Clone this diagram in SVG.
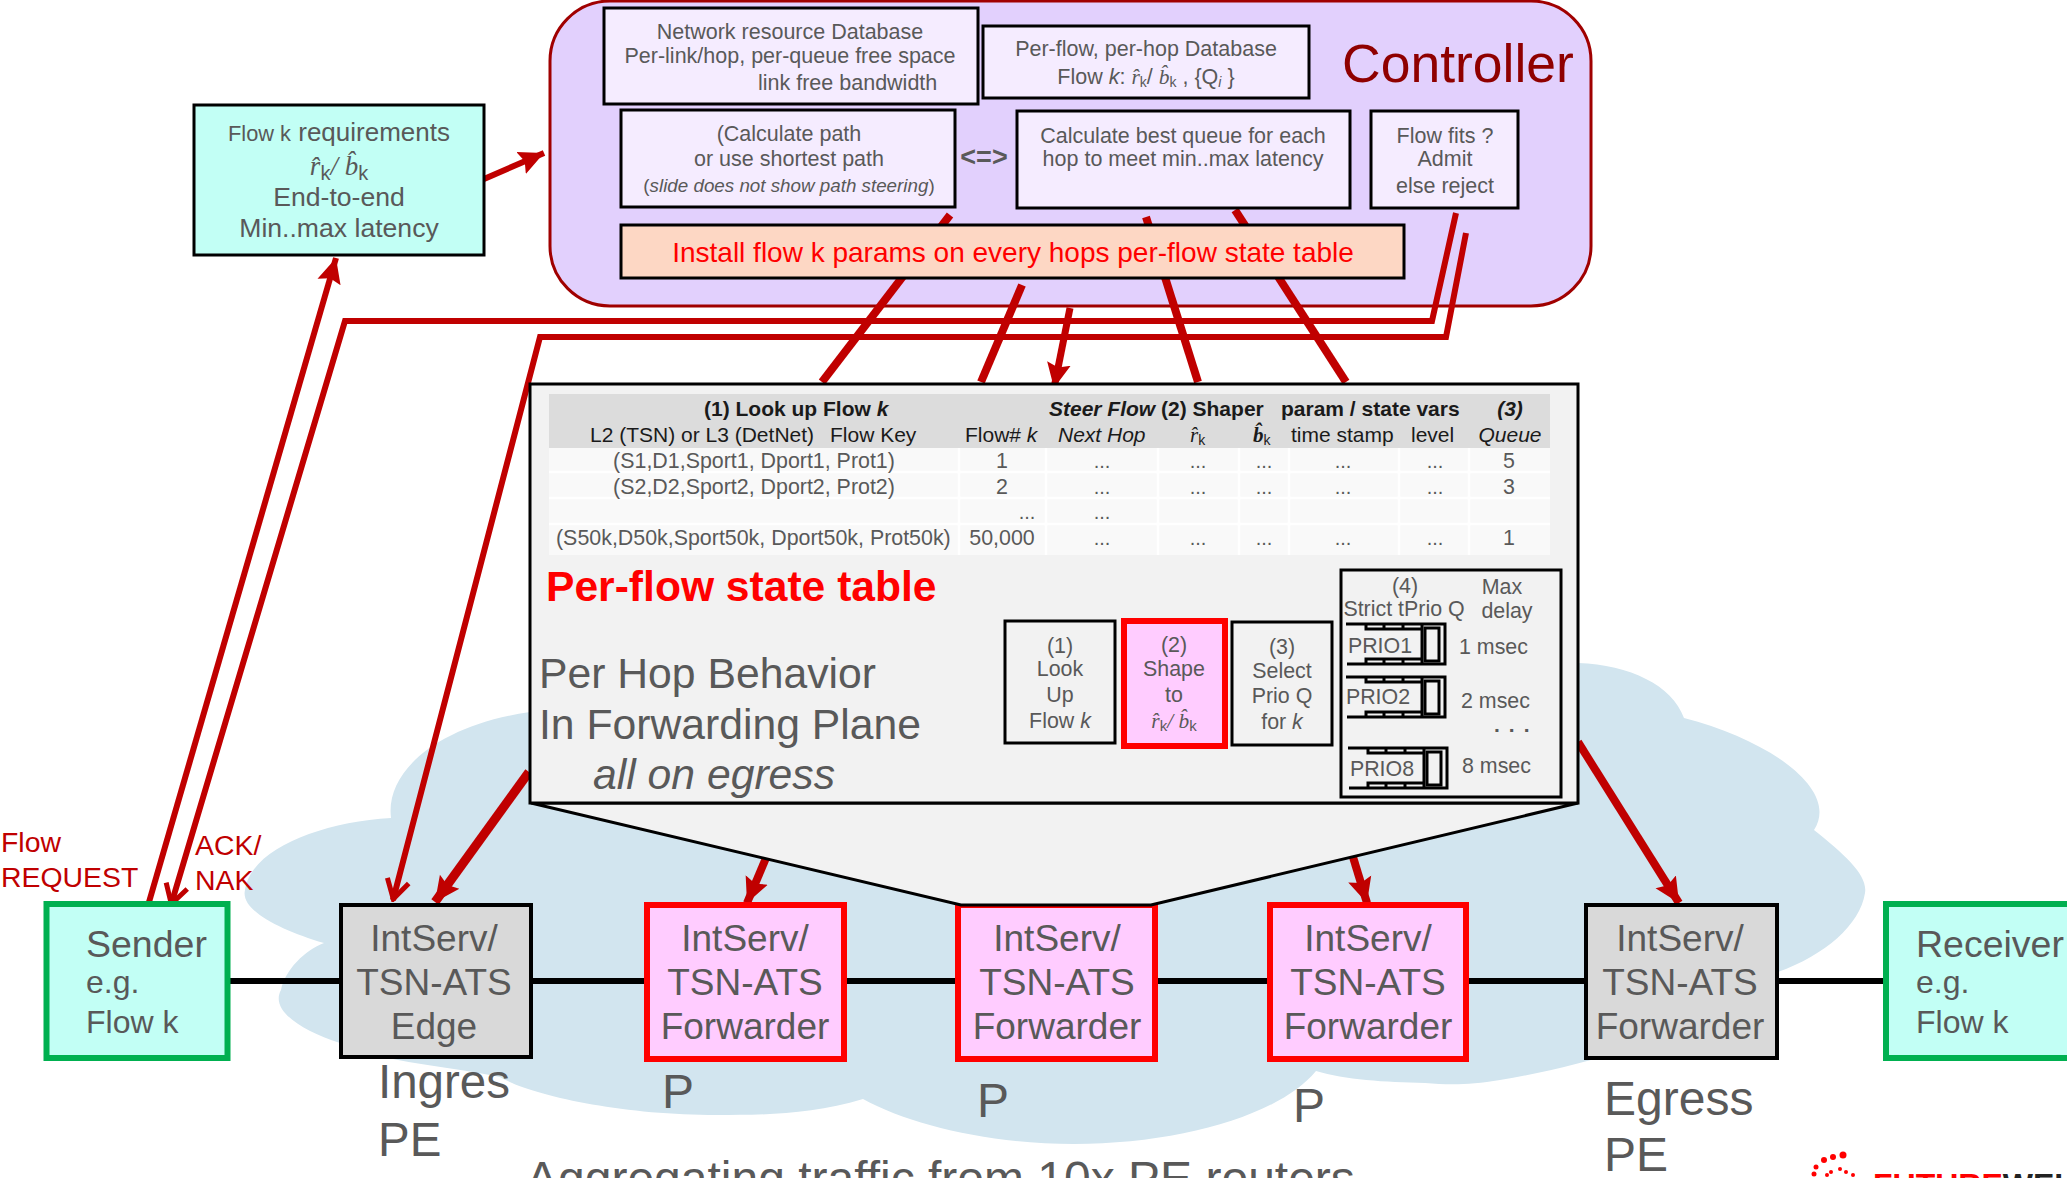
<svg xmlns="http://www.w3.org/2000/svg" xmlns:xlink="http://www.w3.org/1999/xlink" width="2067" height="1178" viewBox="0 0 2067 1178">
<style>
text{font-family:"Liberation Sans",Arial,sans-serif;fill:#595959}
.m{text-anchor:middle}
.sf{font-family:"Liberation Serif",serif;font-style:italic}
.sub{font-family:"Liberation Sans",Arial,sans-serif;font-style:normal}
.red{fill:#c00000;font-size:28.400px}
.c{stroke:#c00000;fill:none}
.n{fill:#f5ecff;stroke:#000;stroke-width:3}
.t{font-size:21.500px}
.h{font-size:21px;fill:#1a1a1a}
.d{font-size:21.400px}
.dots{font-size:20px;text-anchor:middle}
.fw{fill:#ffccff;stroke:#ff0000;stroke-width:6}
.gy{fill:#d9d9d9;stroke:#000;stroke-width:4}
.g{font-size:37px;text-anchor:middle}
.l{font-size:48px}
.b{font-size:42.700px}
.q{fill:none;stroke:#000;stroke-width:3}
.hs{fill:#c2fff5;stroke:#00b050;stroke-width:6}
</style>
<defs>
<marker id="ah" markerUnits="userSpaceOnUse" markerWidth="26" markerHeight="28" refX="25" refY="14" orient="auto"><path d="M0 2L25 14L0 26L4 14Z" fill="#c00000"/></marker>
<marker id="oh" markerUnits="userSpaceOnUse" markerWidth="26" markerHeight="28" refX="24" refY="14" orient="auto"><path d="M4 3L23 14L4 25" fill="none" stroke="#c00000" stroke-width="5"/></marker>
<g id="qs"><path class="q" d="M1346 624H1445V664H1347M1366 624V629H1422M1384 624V629M1403 624V629M1366 664V659H1422M1384 664V659M1403 664V659M1422 624V664"/><rect class="q" x="1425" y="628" width="14" height="33"/></g>
</defs>
<g id="cloud"><path fill="#d2e5ef" d="M391 818C385 770 440 725 530 712L1578 663C1630 665 1672 685 1684 718C1770 740 1840 790 1814 830C1845 855 1868 875 1865 893C1860 925 1825 955 1778 972C1720 1020 1620 1060 1500 1080C1470 1085 1450 1085 1425 1083C1385 1082 1345 1080 1316 1071C1280 1115 1180 1144 1074 1144C990 1144 910 1125 863 1099C810 1115 760 1115 717 1115C620 1115 530 1095 500 1077C440 1065 370 1060 340 1043C300 1030 270 1010 281 990C285 970 305 950 324 943C280 930 240 910 245 890C250 850 320 822 391 818Z"/></g>
<g id="wires" stroke="#000" stroke-width="6" fill="none"><path d="M230 981H1890"/></g>
<g id="controller"><rect x="550" y="1" width="1041" height="305" rx="60" fill="#e2d0fd" stroke="#a00000" stroke-width="3"/>
<text x="1342" y="82" font-size="53.500" style="fill:#8f0000">Controller</text></g>
<g id="connectors">
<path class="c" stroke-width="8" d="M950 215L822 382"/>
<path class="c" stroke-width="8" d="M1022 285L981 382"/>
<path class="c" stroke-width="7" d="M1070 308L1054 388" marker-end="url(#ah)"/>
<path class="c" stroke-width="8" d="M1146 217L1198 382"/>
<path class="c" stroke-width="8" d="M1235 210L1346 382"/>
<path class="c" stroke-width="6" d="M1456 213L1432 321H345L171 905" marker-end="url(#oh)"/>
<path class="c" stroke-width="6" d="M1466 233L1446 337H540L393 900" marker-end="url(#oh)"/>
<path class="c" stroke-width="6" d="M147 909L336 258" marker-end="url(#ah)"/>
<path class="c" stroke-width="6" d="M484 179L544 153" marker-end="url(#ah)"/>
<path class="c" stroke-width="9" d="M529 772L435 902" marker-end="url(#ah)"/>
<path class="c" stroke-width="8" d="M766 858L747 903" marker-end="url(#ah)"/>
<path class="c" stroke-width="8" d="M1353 857L1367 903" marker-end="url(#ah)"/>
<path class="c" stroke-width="8" d="M1578 742L1679 903" marker-end="url(#ah)"/>
</g>
<g id="db1"><rect class="n" x="604" y="8" width="374" height="96"/>
<text class="t m" x="790" y="39">Network resource Database</text>
<text class="t m" x="790" y="63">Per-link/hop, per-queue free space</text>
<text class="t" x="758" y="90">link free bandwidth</text></g>
<g id="db2"><rect class="n" x="983" y="26" width="326" height="72"/>
<text class="t m" x="1146" y="56">Per-flow, per-hop Database</text>
<text class="t m" x="1146" y="84">Flow <tspan font-style="italic">k</tspan>: <tspan class="sf">r̂</tspan><tspan font-size="14" dy="3">k</tspan><tspan dy="-3">/ </tspan><tspan class="sf">b̂</tspan><tspan font-size="14" dy="3">k</tspan><tspan dy="-3"> , {Q</tspan><tspan font-size="14" dy="3" font-style="italic">i</tspan><tspan dy="-3"> }</tspan></text></g>
<g id="calc1"><rect class="n" x="621" y="110" width="334" height="97"/>
<text class="t m" x="789" y="141">(Calculate path</text>
<text class="t m" x="789" y="166">or use shortest path</text>
<text x="789" y="192" font-size="18.800" text-anchor="middle">(<tspan font-style="italic">slide does not show path steering</tspan>)</text></g>
<text x="984" y="166" font-size="27" text-anchor="middle" font-weight="bold">&lt;=&gt;</text>
<g id="calc2"><rect class="n" x="1017" y="111" width="333" height="97"/>
<text class="t m" x="1183" y="143">Calculate best queue for each</text>
<text class="t m" x="1183" y="166">hop to meet min..max latency</text></g>
<g id="admit"><rect class="n" x="1371" y="111" width="147" height="97"/>
<text class="t m" x="1445" y="143">Flow fits ?</text>
<text class="t m" x="1445" y="166">Admit</text>
<text class="t m" x="1445" y="193">else reject</text></g>
<g id="install"><rect x="621" y="225" width="783" height="53" fill="#fdd7c4" stroke="#000" stroke-width="3"/>
<text x="1013" y="262" font-size="28" text-anchor="middle" style="fill:#ff0000">Install flow k params on every hops per-flow state table</text></g>
<g id="req"><rect x="194" y="105" width="290" height="150" fill="#c2fff5" stroke="#000" stroke-width="3"/>
<text x="339" y="141" font-size="26" text-anchor="middle"><tspan font-size="21.800">Flow k</tspan> requirements</text>
<text x="339" y="175" font-size="27" text-anchor="middle"><tspan class="sf">r̂</tspan><tspan font-size="20" dy="5">k</tspan><tspan dy="-5" class="sf">/ b̂</tspan><tspan font-size="20" dy="5">k</tspan></text>
<text x="339" y="206" font-size="26.600" text-anchor="middle">End-to-end</text>
<text x="339" y="237" font-size="26.600" text-anchor="middle">Min..max latency</text></g>
<g id="sender"><rect class="hs" x="46.500" y="904" width="181" height="154"/>
<text x="86" y="957" font-size="37.500">Sender</text><text x="86" y="993" font-size="32">e.g.</text><text x="86" y="1033" font-size="32">Flow k</text></g>
<g id="edge"><rect class="gy" x="341" y="905" width="190" height="152"/>
<text x="434" y="951" class="g">IntServ/</text><text x="434" y="995" class="g">TSN-ATS</text><text x="434" y="1039" class="g">Edge</text></g>
<g id="f1"><rect class="fw" x="647" y="905" width="197" height="154"/><text class="g" x="745" y="951">IntServ/</text><text class="g" x="745" y="995">TSN-ATS</text><text class="g" x="745" y="1039">Forwarder</text></g>
<g id="f2"><rect class="fw" x="958" y="905" width="197" height="154"/><text class="g" x="1057" y="951">IntServ/</text><text class="g" x="1057" y="995">TSN-ATS</text><text class="g" x="1057" y="1039">Forwarder</text></g>
<g id="f3"><rect class="fw" x="1270" y="905" width="196" height="154"/><text class="g" x="1368" y="951">IntServ/</text><text class="g" x="1368" y="995">TSN-ATS</text><text class="g" x="1368" y="1039">Forwarder</text></g>
<g id="egress"><rect class="gy" x="1586" y="905" width="191" height="153"/><text class="g" x="1680" y="951">IntServ/</text><text class="g" x="1680" y="995">TSN-ATS</text><text class="g" x="1680" y="1039">Forwarder</text></g>
<g id="receiver"><rect class="hs" x="1886" y="904" width="190" height="154"/>
<text x="1916" y="957" font-size="37.500">Receiver</text><text x="1916" y="993" font-size="32">e.g.</text><text x="1916" y="1033" font-size="32">Flow k</text></g>
<g id="perhop">
<path d="M531 803L961 905H1151L1578 803Z" fill="#f2f2f2" stroke="#000" stroke-width="3"/>
<rect x="530" y="384" width="1048" height="419" fill="#f2f2f2" stroke="#000" stroke-width="3"/>
<rect x="549" y="394" width="1001" height="54" fill="#dcdcdc"/>
<rect x="549" y="448" width="1001" height="107" fill="#f9f9f9"/>
<path d="M549 472H1550M549 498H1550M549 524H1550M959 448V555M1046 448V555M1158 448V555M1239 448V555M1289 448V555M1399 448V555M1469 448V555" stroke="#fff" stroke-width="2.500" fill="none"/>
<text class="h" x="704" y="416" font-weight="bold">(1) Look up Flow <tspan font-style="italic">k</tspan></text>
<text class="h" x="1049" y="416" font-weight="bold"><tspan font-style="italic">Steer Flow</tspan> (2) Shaper</text>
<text class="h" x="1281" y="416" font-weight="bold">param / state vars</text>
<text class="h m" x="1510" y="416" font-weight="bold" font-style="italic">(3)</text>
<text class="h" x="590" y="442">L2 (TSN) or L3 (DetNet)</text>
<text class="h" x="830" y="442">Flow Key</text>
<text class="h" x="965" y="442">Flow# <tspan font-style="italic">k</tspan></text>
<text class="h" x="1058" y="442" font-style="italic">Next Hop</text>
<text class="h" x="1190" y="442"><tspan class="sf">r̂</tspan><tspan font-size="14" dy="3">k</tspan></text>
<text class="h" x="1253" y="442"><tspan class="sf" font-weight="bold">b̂</tspan><tspan font-size="14" dy="3">k</tspan></text>
<text class="h" x="1291" y="442">time stamp</text>
<text class="h" x="1411" y="442">level</text>
<text class="h m" x="1510" y="442" font-style="italic">Queue</text>
<text class="d m" x="754" y="468">(S1,D1,Sport1, Dport1, Prot1)</text>
<text class="d m" x="754" y="494">(S2,D2,Sport2, Dport2, Prot2)</text>
<text class="d" x="556" y="545">(S50k,D50k,Sport50k, Dport50k, Prot50k)</text>
<text class="d m" x="1002" y="468">1</text><text class="d m" x="1002" y="494">2</text>
<text class="dots" x="1027" y="519">...</text><text class="d m" x="1002" y="545">50,000</text>
<text class="dots" x="1102" y="468">...</text><text class="dots" x="1102" y="494">...</text><text class="dots" x="1102" y="519">...</text><text class="dots" x="1102" y="545">...</text>
<text class="dots" x="1198" y="468">...</text><text class="dots" x="1198" y="494">...</text><text class="dots" x="1198" y="545">...</text>
<text class="dots" x="1264" y="468">...</text><text class="dots" x="1264" y="494">...</text><text class="dots" x="1264" y="545">...</text>
<text class="dots" x="1343" y="468">...</text><text class="dots" x="1343" y="494">...</text><text class="dots" x="1343" y="545">...</text>
<text class="dots" x="1435" y="468">...</text><text class="dots" x="1435" y="494">...</text><text class="dots" x="1435" y="545">...</text>
<text class="d m" x="1509" y="468">5</text><text class="d m" x="1509" y="494">3</text><text class="d m" x="1509" y="545">1</text>
<text x="546" y="601" font-size="42.600" font-weight="bold" style="fill:#ff0000">Per-flow state table</text>
<text x="539" y="688" class="b">Per Hop Behavior</text>
<text x="539" y="739" class="b">In Forwarding Plane</text>
<text x="593" y="789" class="b" font-style="italic">all on egress</text>
<rect x="1005" y="621" width="110" height="122" fill="none" stroke="#000" stroke-width="3"/>
<text class="d m" x="1060" y="653">(1)</text><text class="d m" x="1060" y="676">Look</text><text class="d m" x="1060" y="702">Up</text><text class="d m" x="1060" y="728">Flow <tspan font-style="italic">k</tspan></text>
<rect x="1124" y="621" width="101" height="125" fill="#ffccff" stroke="#ff0000" stroke-width="6"/>
<text class="d m" x="1174" y="652">(2)</text><text class="d m" x="1174" y="676">Shape</text><text class="d m" x="1174" y="702">to</text><text class="d m" x="1174" y="728"><tspan class="sf">r̂</tspan><tspan font-size="15" dy="3">k</tspan><tspan dy="-3" class="sf">/ b̂</tspan><tspan font-size="15" dy="3">k</tspan></text>
<rect x="1232" y="622" width="100" height="123" fill="none" stroke="#000" stroke-width="3"/>
<text class="d m" x="1282" y="654">(3)</text><text class="d m" x="1282" y="678">Select</text><text class="d m" x="1282" y="703">Prio Q</text><text class="d m" x="1282" y="729">for <tspan font-style="italic">k</tspan></text>
<rect x="1341" y="570" width="220" height="227" fill="none" stroke="#000" stroke-width="3"/>
<text class="d m" x="1405" y="593">(4)</text><text class="d m" x="1404" y="616">Strict tPrio Q</text>
<text class="d m" x="1502" y="594">Max</text><text class="d m" x="1507" y="618">delay</text>
<use xlink:href="#qs"/><use xlink:href="#qs" y="53"/><use xlink:href="#qs" x="2" y="124"/>
<text class="d m" x="1380" y="653">PRIO1</text><text class="d m" x="1378" y="704">PRIO2</text><text class="d m" x="1382" y="776">PRIO8</text>
<text class="d" x="1459" y="654">1 msec</text>
<text class="d" x="1461" y="708">2 msec</text>
<text x="1494" y="732" font-size="21" font-weight="bold" letter-spacing="9">...</text>
<text class="d" x="1462" y="773">8 msec</text>
</g>
<text x="378" y="1098" font-size="47.500">Ingres</text><text x="378" y="1156" font-size="47.500">PE</text>
<text x="662" y="1108" class="l">P</text><text x="977" y="1117" class="l">P</text><text x="1293" y="1122" class="l">P</text>
<text x="1604" y="1115" class="l">Egress</text><text x="1604" y="1171" class="l">PE</text>
<text x="526" y="1195" class="l">Aggregating traffic from 10x PE routers</text>
<text x="1" y="852" class="red">Flow</text><text x="1" y="887" class="red">REQUEST</text>
<text x="195" y="855" class="red">ACK/</text><text x="195" y="890" class="red">NAK</text>
<g id="logo" fill="#f00"><circle cx="1843" cy="1155" r="3.500"/><circle cx="1833" cy="1157" r="3"/><circle cx="1824" cy="1160" r="3"/><circle cx="1816" cy="1167" r="2.500"/><circle cx="1814" cy="1174" r="2.500"/><circle cx="1840" cy="1169" r="2"/><circle cx="1831" cy="1172" r="2"/><circle cx="1846" cy="1172" r="2"/><circle cx="1853" cy="1175" r="2"/><circle cx="1827" cy="1175" r="2"/>
<text x="1873" y="1196" font-size="32" font-weight="bold" style="fill:#f00">FUTURE<tspan style="fill:#222">WEI</tspan></text></g>
</svg>
